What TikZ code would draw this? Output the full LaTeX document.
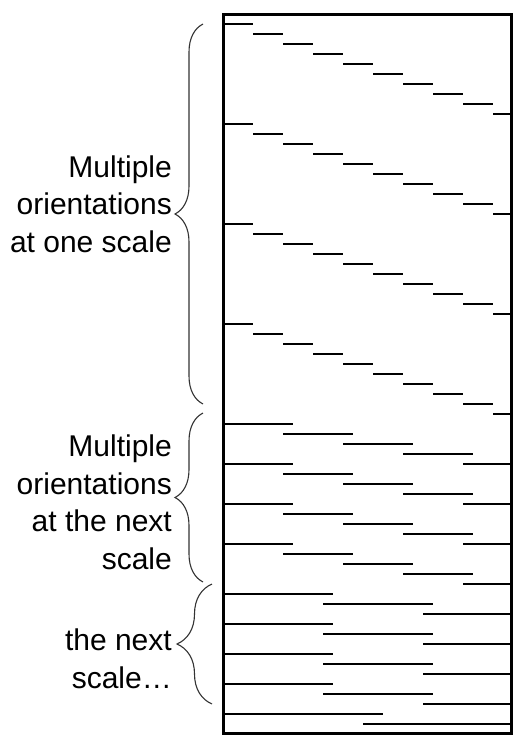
\documentclass[tikz,border=0pt]{standalone}
\usepackage{fontspec}
\setmainfont{Liberation Sans}
\usetikzlibrary{decorations.pathreplacing}

\begin{document}
\begin{tikzpicture}[x=1pt,y=-1pt,
        seg/.style={line width=1.3pt},
        frame/.style={line width=3pt},
        curly/.style={decorate, decoration={brace, amplitude=#1}, line width=1.1pt, black!80},
        caption/.style={anchor=base east, align=right, inner sep=0pt, font=\fontsize{30}{37.5}\selectfont}]
    \useasboundingbox (0,0) rectangle (523,747);

    % one scale: 4 sweeps of 10 orientations
    \foreach \s in {0,...,3}
        \foreach \k in {0,...,9}
            \draw[seg] ({223+30*\k},{24+100*\s+10*\k}) -- ({min(253+30*\k,511)},{24+100*\s+10*\k});
    % next scale
    \foreach \s in {0,...,3}
        \foreach \k in {0,...,4}
            \draw[seg] ({223+60*\k},{424+40*\s+10*\k}) -- ({min(293+60*\k,511)},{424+40*\s+10*\k});
    % and the next
    \foreach \s in {0,...,3}
        \foreach \k in {0,...,2}
            \draw[seg] ({223+100*\k},{594+30*\s+10*\k}) -- ({min(333+100*\k,511)},{594+30*\s+10*\k});
    \foreach \k in {0,1}
        \draw[seg] ({223+140*\k},{714+10*\k}) -- ({min(383+140*\k,511)},{714+10*\k});

    \draw[frame] (223,14.3) rectangle (511.7,733.3);

    \coordinate (b1top) at (203,24);
    \coordinate (b1bot) at (203,404);
    \coordinate (b2top) at (203,413);
    \coordinate (b2bot) at (203,582);
    \coordinate (b3top) at (212,584);
    \coordinate (b3bot) at (212,704);

    \draw[curly=28] (b1bot) -- (b1top);
    \draw[curly=28] (b2bot) -- (b2top);
    \draw[curly=35] (b3bot) -- (b3top);

    % anchor is the baseline of the last line
    \node[caption] (one) at (172,252) {Multiple\\orientations\\at one scale};
    \node[caption] (next) at (172,569) {Multiple\\orientations\\at the next\\scale};
    \node[caption] (nextnext) at (172,688) {the next\\scale…};
\end{tikzpicture}
\end{document}
